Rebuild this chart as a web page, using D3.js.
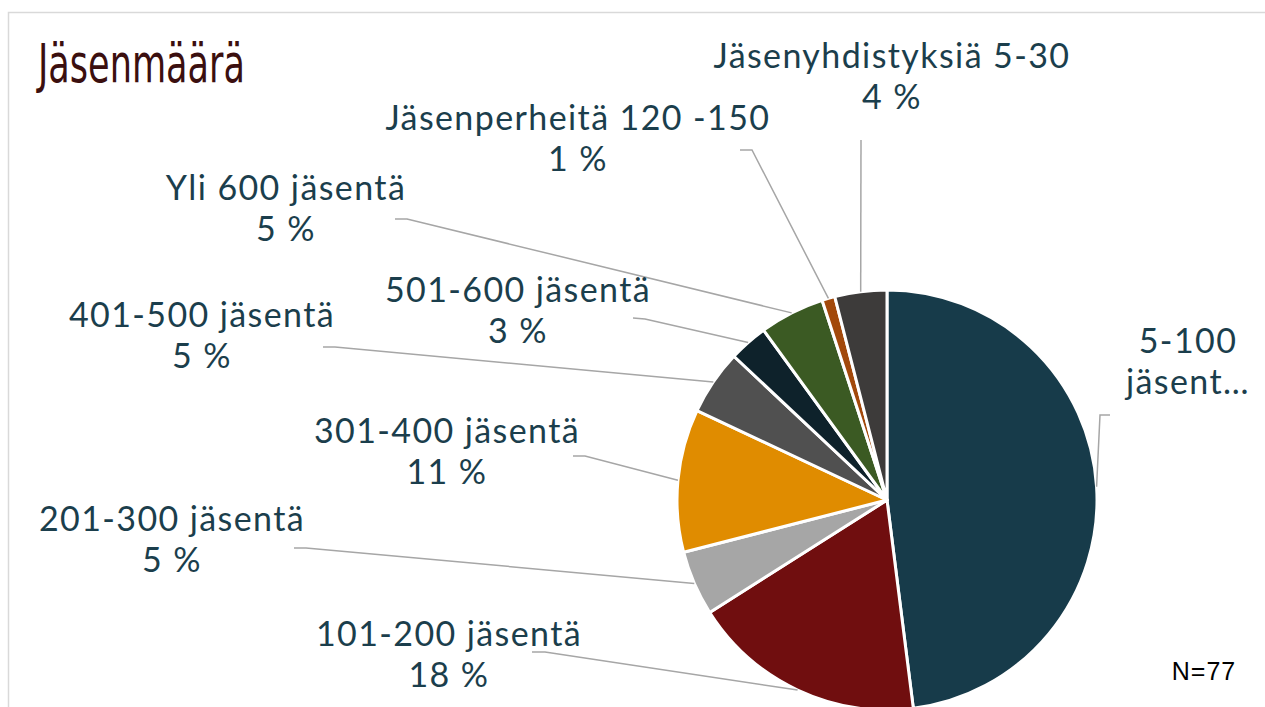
<!DOCTYPE html>
<html>
<head>
<meta charset="utf-8">
<script src="https://cdn.jsdelivr.net/npm/d3@7"></script>
<style>
  body { margin: 0; background: #fff; }
  svg { display: block; }
</style>
</head>
<body>
<svg id="chart"></svg>
<script>
// data
const categories = [
  '5-100 jäsentä', '101-200 jäsentä', '201-300 jäsentä', '301-400 jäsentä',
  '401-500 jäsentä', '501-600 jäsentä', 'Yli 600 jäsentä',
  'Jäsenperheitä 120 -150', 'Jäsenyhdistyksiä 5-30'
];
const percents = [48, 18, 5, 11, 5, 3, 5, 1, 4];
const colors = [
  '#173b4a', '#700e0f', '#a6a6a6', '#e08c00', '#505050',
  '#0e222b', '#3b5a23', '#a2490b', '#3d3b3a'
];
// the first label is cut short in the original
const truncated = { '5-100 jäsentä': ['5-100', 'jäsent…'] };
const title = 'Jäsenmäärä';
const note = 'N=77';

// label layout: text centre, baseline of first line, leader start and elbow
const labelPos = [
  { x: 1188, y: 353, start: [1110, 415], elbow: [1100, 415] },
  { x: 449, y: 646, start: [532, 652], elbow: [545, 652] },
  { x: 172, y: 531, start: [294, 548], elbow: [306, 548] },
  { x: 447, y: 443, start: [573, 456], elbow: [585, 456] },
  { x: 202, y: 327, start: [323, 347], elbow: [335, 347] },
  { x: 518, y: 302, start: [633, 318], elbow: [645, 319] },
  { x: 286, y: 200, start: [395, 219], elbow: [407, 219] },
  { x: 578, y: 130, start: [740, 150], elbow: [752, 150] },
  { x: 892, y: 68, start: [861, 140], elbow: null }
];

const width = 1265;
const height = 707;
const cx = 887;
const cy = 500;
const radius = 210;

const svg = d3.select('#chart')
    .attr('width', width)
    .attr('height', height);

// chart border
svg.append('rect')
    .attr('x', 8.5)
    .attr('y', 12.5)
    .attr('width', width)
    .attr('height', height)
    .attr('fill', 'none')
    .attr('stroke', '#d9d9d9')
    .attr('stroke-width', 1.5);

svg.append('text')
    .attr('x', 38)
    .attr('y', 82)
    .attr('textLength', 207)
    .attr('lengthAdjust', 'spacingAndGlyphs')
    .style('font-family', '"Liberation Sans Narrow", "DejaVu Sans Condensed", sans-serif')
    .style('font-size', '54px')
    .style('fill', '#3b0f0f')
    .text(title);

const data = categories.map((c, i) => ({ label: c, value: percents[i], color: colors[i], pos: labelPos[i] }));

const pie = d3.pie()
    .sort(null)
    .value(d => d.value);

const arc = d3.arc()
    .innerRadius(0)
    .outerRadius(radius);

const arcs = pie(data);

const g = svg.append('g')
    .attr('transform', `translate(${cx},${cy})`);

g.selectAll('path.slice')
    .data(arcs)
  .enter().append('path')
    .attr('class', 'slice')
    .attr('d', arc)
    .attr('fill', d => d.data.color)
    .attr('stroke', '#fff')
    .attr('stroke-width', 3)
    .attr('stroke-linejoin', 'round');

// leader lines
function edgePoint(d) {
  const a = (d.startAngle + d.endAngle) / 2;
  return [cx + radius * Math.sin(a), cy - radius * Math.cos(a)];
}

svg.selectAll('path.leader')
    .data(arcs)
  .enter().append('path')
    .attr('class', 'leader')
    .attr('d', d => {
      const p = d.data.pos;
      const pts = [p.start];
      if (p.elbow) pts.push(p.elbow);
      pts.push(edgePoint(d));
      return d3.line()(pts);
    })
    .attr('fill', 'none')
    .attr('stroke', '#a6a6a6')
    .attr('stroke-width', 1.5);

const labels = svg.selectAll('text.label')
    .data(arcs)
  .enter().append('text')
    .attr('class', 'label')
    .attr('text-anchor', 'middle')
    .style('font-family', 'Lato, "Open Sans", sans-serif')
    .style('font-size', '34px')
    .style('letter-spacing', '1.4px')
    .style('fill', '#1b3e4c');

labels.each(function(d) {
  const lines = truncated[d.data.label] || [d.data.label, `${d.data.value} %`];
  d3.select(this).selectAll('tspan')
      .data(lines)
    .enter().append('tspan')
      .attr('x', d.data.pos.x)
      .attr('y', (l, i) => d.data.pos.y + i * 41)
      .text(l => l);
});

svg.append('text')
    .attr('x', 1204)
    .attr('y', 680)
    .attr('text-anchor', 'middle')
    .style('font-family', '"Liberation Sans", Arial, sans-serif')
    .style('font-size', '25px')
    .style('letter-spacing', '1px')
    .style('fill', '#000')
    .text(note);
</script>
</body>
</html>
